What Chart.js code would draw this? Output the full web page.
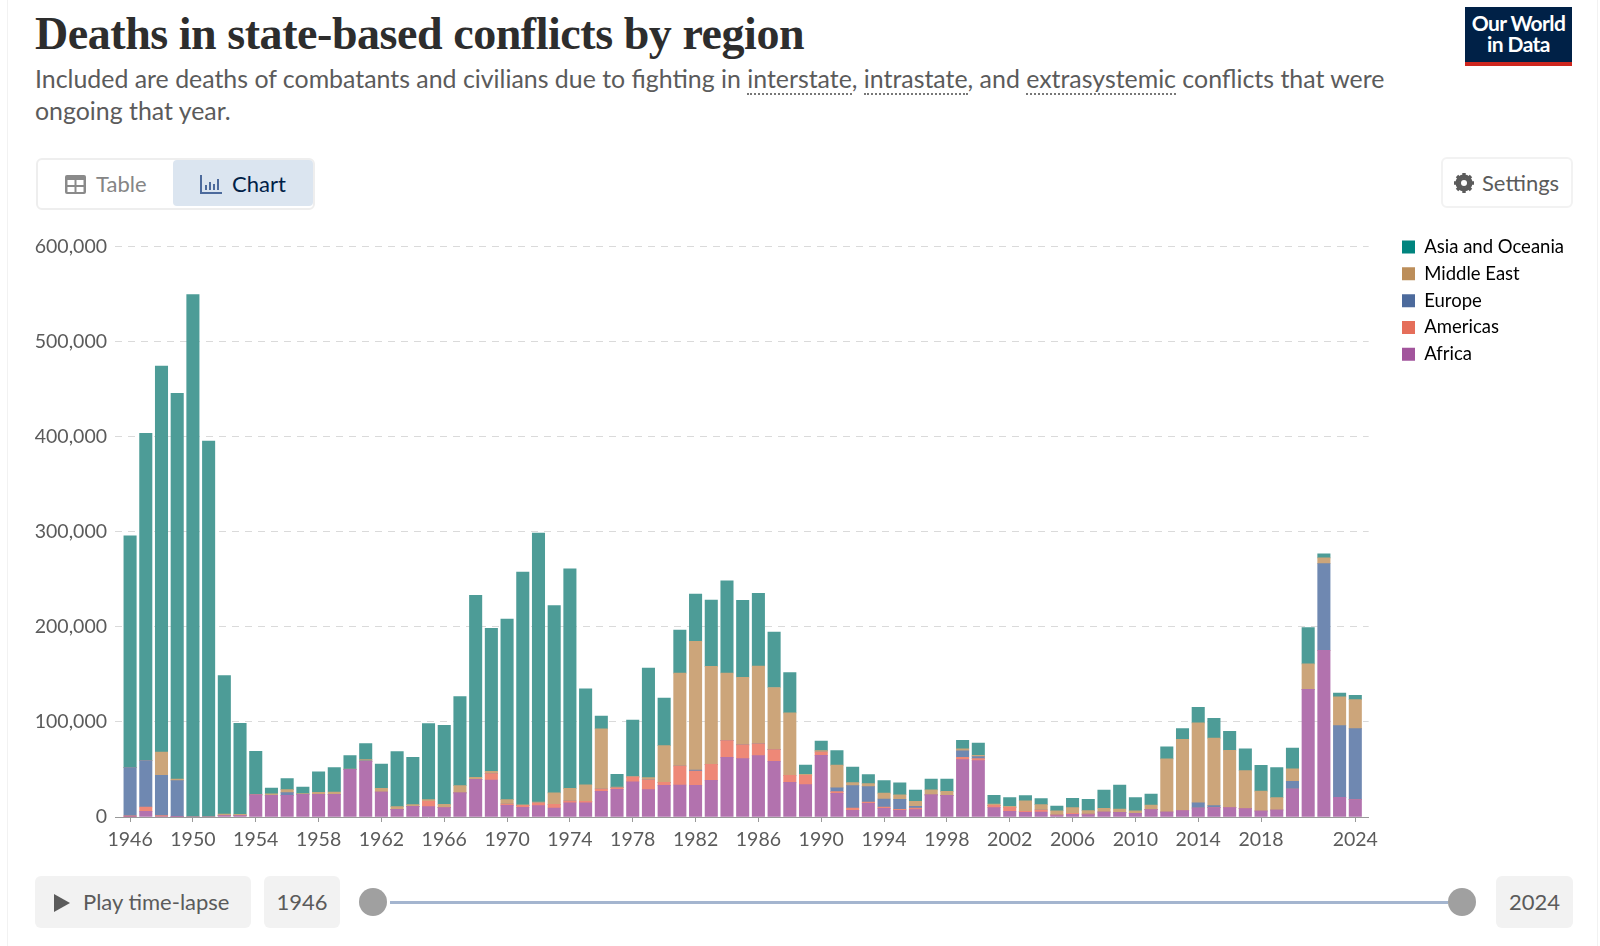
<!DOCTYPE html>
<html>
<head>
<meta charset="utf-8">
<title>Deaths in state-based conflicts by region</title>
<script src="https://cdn.jsdelivr.net/npm/chart.js@4"></script>
<style>
  html, body { margin: 0; padding: 0; background: #fff; }
  body { width: 1600px; height: 946px; position: relative; overflow: hidden; font-family: Lato, sans-serif; color: #5b5b5b; }
  .abs { position: absolute; white-space: nowrap; }
  #frame { left: 7px; top: -2px; width: 1591px; height: 960px; border: 1px solid #f2f2f2; box-sizing: border-box; }
  #title { left: 35px; top: 6px; font: bold 46px/56px "Liberation Serif", serif; letter-spacing: -0.45px; color: #2d2d2d; }
  #subtitle { left: 35px; top: 63px; font-size: 24.9px; line-height: 31.5px; }
  #subtitle span { border-bottom: 2px dotted #777; }
  #tabs { left: 36px; top: 158px; width: 279px; height: 52px; border: 2px solid #eee; border-radius: 6px; box-sizing: border-box; }
  #active { left: 173px; top: 160px; width: 140px; height: 46px; background: #dbe5f0; border-radius: 4px; }
  .btn { font-size: 22px; line-height: 26px; }
  #settings { left: 1441px; top: 157px; width: 132px; height: 51px; border: 2px solid #f2f2f2; border-radius: 6px; box-sizing: border-box; }
  #logo { left: 1465px; top: 7px; width: 107px; height: 59px; background: #002147; border-bottom: 4px solid #ce261e; box-sizing: border-box; color: #fff; font-weight: bold; font-size: 21px; line-height: 20.5px; text-align: center; padding-top: 6px; letter-spacing: -0.6px; }
  .pill { background: #f2f2f2; border-radius: 6px; top: 876px; height: 52px; line-height: 52px; font-size: 22px; text-align: center; }
  #track { left: 390px; top: 901px; width: 1058px; height: 3px; background: #a4b5cf; }
  .knob { top: 888px; width: 28px; height: 28px; border-radius: 50%; background: #a0a0a0; }
  #chart { position: absolute; left: 0; top: 227px; }
</style>
</head>
<body>
<div class="abs" id="frame"></div>
<div class="abs" id="title">Deaths in state-based conflicts by region</div>
<div class="abs" id="subtitle">Included are deaths of combatants and civilians due to fighting in <span>interstate</span>, <span>intrastate</span>, and <span>extrasystemic</span> conflicts that were<br>ongoing that year.</div>
<div class="abs" id="logo">Our World<br>in Data</div>

<div class="abs" id="tabs"></div>
<div class="abs" id="active"></div>
<svg class="abs" style="left:65px;top:175px" width="21" height="19" viewBox="0 0 21 19"><rect width="21" height="19" rx="2" fill="#8a8a8a"/><rect x="2.5" y="5" width="7" height="5" fill="#fff"/><rect x="11.5" y="5" width="7" height="5" fill="#fff"/><rect x="2.5" y="12" width="7" height="5" fill="#fff"/><rect x="11.5" y="12" width="7" height="5" fill="#fff"/></svg>
<div class="abs btn" style="left:96px;top:171px;color:#858585">Table</div>
<svg class="abs" style="left:200px;top:175px" width="22" height="19" viewBox="0 0 22 19"><path d="M1 0v18h21" fill="none" stroke="#4c6a9c" stroke-width="2"/><rect x="5" y="10" width="2" height="5" fill="#4c6a9c"/><rect x="9" y="7" width="2" height="8" fill="#4c6a9c"/><rect x="13" y="9" width="2" height="6" fill="#4c6a9c"/><rect x="17" y="4" width="2" height="11" fill="#4c6a9c"/></svg>
<div class="abs btn" style="left:232px;top:171px;color:#002147">Chart</div>

<div class="abs" id="settings"></div>
<svg class="abs" style="left:1454px;top:173px" width="20" height="20" viewBox="0 0 20 20"><circle cx="10" cy="10" r="6.5" fill="none" stroke="#5b5b5b" stroke-width="4"/><path d="M10 0v20M0 10h20M3 3l14 14M17 3L3 17" stroke="#5b5b5b" stroke-width="3.4"/><circle cx="10" cy="10" r="3" fill="#fff"/></svg>
<div class="abs btn" style="left:1482px;top:170px">Settings</div>

<canvas id="chart" width="1600" height="633"></canvas>

<div class="abs pill" style="left:35px;width:216px"></div>
<svg class="abs" style="left:54px;top:894px" width="16" height="18" viewBox="0 0 16 18"><path d="M0 0L16 9L0 18Z" fill="#5b5b5b"/></svg>
<div class="abs btn" style="left:83px;top:889px">Play time-lapse</div>
<div class="abs pill" style="left:264px;width:76px">1946</div>
<div class="abs" id="track"></div>
<div class="abs knob" style="left:359px"></div>
<div class="abs knob" style="left:1448px"></div>
<div class="abs pill" style="left:1496px;width:77px">2024</div>

<script>
const years = [1946, 1947, 1948, 1949, 1950, 1951, 1952, 1953, 1954, 1955, 1956, 1957, 1958, 1959, 1960, 1961, 1962, 1963, 1964, 1965,
  1966, 1967, 1968, 1969, 1970, 1971, 1972, 1973, 1974, 1975, 1976, 1977, 1978, 1979, 1980, 1981, 1982, 1983, 1984, 1985,
  1986, 1987, 1988, 1989, 1990, 1991, 1992, 1993, 1994, 1995, 1996, 1997, 1998, 1999, 2000, 2001, 2002, 2003, 2004, 2005,
  2006, 2007, 2008, 2009, 2010, 2011, 2012, 2013, 2014, 2015, 2016, 2017, 2018, 2019, 2020, 2021, 2022, 2023, 2024];

// values in deaths
const africa = [300, 6000, 500, 300, 0, 0, 1400, 1400, 23200, 22800, 22800, 23900, 23900, 23900, 50200, 58600, 26300, 8000, 11200, 10900,
  9800, 25300, 39600, 38900, 12300, 10200, 11900, 9500, 15000, 15000, 27000, 29000, 37000, 28800, 33300, 33700, 33300, 38600, 62800, 61400,
  64600, 58600, 36500, 34000, 64900, 24900, 7000, 14400, 9100, 7000, 7700, 23200, 22800, 60400, 59300, 9800, 6000, 4900, 5300, 1400,
  2800, 2500, 5300, 4900, 3900, 7700, 5300, 6700, 9500, 9800, 9800, 8800, 6300, 7400, 29500, 134400, 175400, 20700, 18200];
const americas = [1000, 4500, 1000, 0, 0, 0, 0, 0, 0, 0, 0, 0, 0, 0, 0, 0, 0, 0, 0, 5600,
  0, 0, 0, 6700, 1400, 2100, 2800, 3900, 1800, 1400, 2500, 1800, 5000, 10200, 3200, 20000, 15000, 16800, 17500, 14400,
  12300, 12300, 7400, 9800, 3500, 1800, 2500, 1400, 1400, 1000, 1800, 0, 0, 2500, 2100, 2500, 4200, 1000, 2100, 1000,
  1000, 700, 0, 0, 0, 0, 0, 0, 0, 0, 0, 0, 0, 0, 0, 0, 0, 0, 0];
const europe = [50700, 48800, 42400, 37900, 0, 0, 0, 0, 0, 0, 2800, 0, 0, 0, 0, 500, 0, 0, 0, 0,
  0, 0, 0, 0, 0, 0, 0, 0, 0, 0, 0, 0, 0, 0, 0, 0, 1000, 0, 0, 0,
  0, 0, 0, 0, 0, 3900, 23500, 16100, 8400, 10500, 1800, 0, 0, 6700, 2100, 0, 0, 0, 0, 0,
  0, 0, 0, 0, 0, 0, 0, 0, 5300, 2100, 0, 0, 0, 0, 8000, 0, 91200, 75400, 74800];
const middleEast = [0, 300, 24500, 1800, 0, 0, 1700, 1400, 700, 1700, 3200, 700, 2100, 2400, 300, 1300, 3900, 2900, 1800, 1800,
  3500, 7700, 2100, 2500, 4600, 500, 1000, 11900, 13300, 17500, 63200, 700, 700, 2400, 38600, 97600, 135600, 103000, 71200, 71200,
  81800, 65300, 65600, 1000, 1400, 23900, 3200, 3200, 6300, 4900, 5300, 5300, 4200, 2100, 1400, 1400, 1000, 11200, 5600, 4200,
  6000, 3500, 3900, 3500, 2500, 4900, 55800, 75000, 84200, 71000, 60400, 40000, 21000, 13000, 13300, 26700, 6000, 30200, 30500];
const asia = [243700, 344000, 406000, 405700, 549600, 395400, 145700, 95800, 45100, 6000, 11600, 7000, 21400, 25700, 14100, 16800, 25600, 58000, 49800, 79900,
  83200, 93700, 191600, 150500, 190000, 245000, 283000, 197000, 231000, 101000, 13600, 13500, 59300, 115400, 49900, 45300, 49500, 69800, 97000, 81000,
  76500, 58300, 42500, 9900, 10200, 15400, 16400, 9500, 13000, 12600, 11600, 11500, 13000, 9000, 13000, 9000, 9200, 5400, 6300, 5000,
  9800, 11900, 19200, 25300, 14000, 11600, 12600, 11300, 16400, 21000, 20000, 22800, 27100, 31600, 21800, 38200, 4200, 4200, 4500];

const xTicks = [1946, 1950, 1954, 1958, 1962, 1966, 1970, 1974, 1978, 1982, 1986, 1990, 1994, 1998, 2002, 2006, 2010, 2014, 2018, 2024];
const yTicks = [0, 100000, 200000, 300000, 400000, 500000, 600000];

const regionNames = ["Africa", "Americas", "Europe", "Middle East", "Asia and Oceania"];
const regionValues = [africa, americas, europe, middleEast, asia];
const barColors = ["#b272ae", "#ee8877", "#6f88b1", "#cca57a", "#4d9c97"];
const legendColors = ["#a2559c", "#e56e5a", "#4c6a9c", "#bc8e5a", "#00847e"];

const textGrey = "#5b5b5b";

// the legend sits a bit away from the plot and above its top, layout can't do that by itself
const moveLegend = {
  id: "moveLegend",
  afterLayout(chart) {
    const legend = chart.legend;
    const w = legend.right - legend.left;
    legend.left = 1393.7;
    legend.right = legend.left + w;
    legend.top = 2.5;
    legend.adjustHitBoxes();
  }
};

new Chart(document.getElementById("chart").getContext("2d"), {
  type: "bar",
  data: {
    labels: years,
    datasets: regionNames.map((name, i) => ({
      label: name,
      data: regionValues[i],
      backgroundColor: barColors[i],
      borderWidth: 0,
      barThickness: 12.4
    }))
  },
  plugins: [moveLegend],
  options: {
    responsive: false,
    animation: false,
    layout: { padding: { top: 0, right: 51, bottom: 0, left: 0 } },
    plugins: {
      title: { display: false },
      tooltip: { enabled: false },
      legend: {
        position: "right",
        align: "start",
        reverse: true,
        labels: {
          boxWidth: 13,
          boxHeight: 13,
          padding: 8.3,
          color: "#333",
          font: { family: "Lato", size: 18.5 },
          generateLabels: (chart) => chart.data.datasets.map((ds, i) => ({
            text: ds.label,
            fillStyle: legendColors[i],
            strokeStyle: legendColors[i],
            lineWidth: 0,
            datasetIndex: i
          }))
        }
      }
    },
    scales: {
      x: {
        type: "linear",
        stacked: true,
        offset: false,
        min: 1945.04,
        max: 2024.85,
        afterFit: (s) => { s.height = 43; },
        afterBuildTicks: (s) => { s.ticks = xTicks.map(v => ({ value: v })); },
        border: { color: "#999", width: 1 },
        grid: { offset: false, drawOnChartArea: false, tickLength: 5, color: "#999" },
        ticks: {
          autoSkip: false,
          maxRotation: 0,
          color: textGrey,
          padding: 6,
          font: { family: "Lato", size: 19.5 },
          callback: (v) => String(v)
        }
      },
      y: {
        stacked: true,
        min: 0,
        max: 600000,
        afterFit: (s) => { s.width = 115; },
        afterBuildTicks: (s) => { s.ticks = yTicks.map(v => ({ value: v })); },
        border: { display: false, dash: [7, 6] },
        grid: {
          drawTicks: false,
          color: (c) => c.tick.value === 0 ? "transparent" : "#dadada"
        },
        ticks: {
          color: textGrey,
          padding: 8,
          font: { family: "Lato", size: 19.5 },
          callback: (v) => v.toLocaleString("en-US")
        }
      }
    }
  }
});
</script>
</body>
</html>
